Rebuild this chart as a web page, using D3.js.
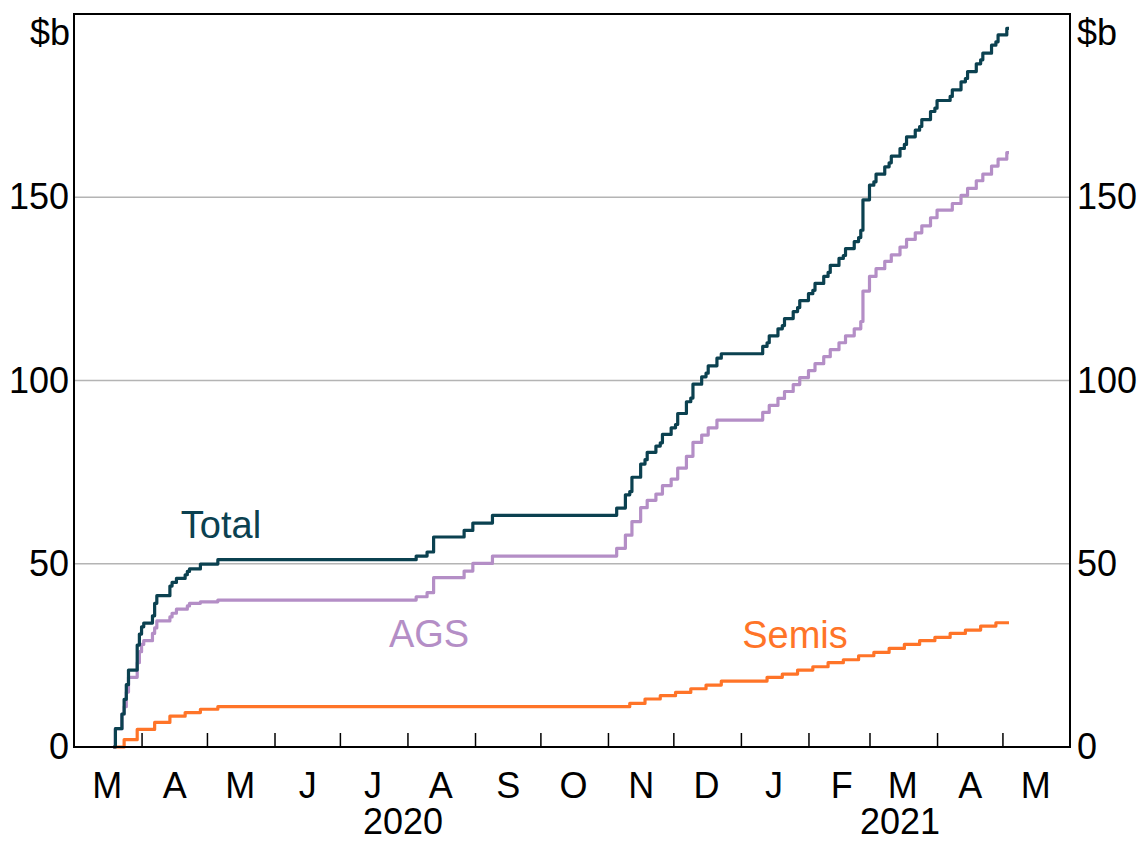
<!DOCTYPE html>
<html>
<head>
<meta charset="utf-8">
<script src="https://cdn.jsdelivr.net/npm/d3@7"></script>
<style>
	body { margin: 0; background: #fff; }
	text { font-family: "Liberation Sans", Arial, sans-serif; }
</style>
</head>
<body>
<svg id="drawZone" width="1140" height="843"></svg>
<script>
/************************************ Data *******************************/
// cumulative purchases, $b, step after each purchase day
var agsData = [
	["2020-03-19",0],["2020-03-20",5],["2020-03-23",9],["2020-03-24",11],["2020-03-25",15],
	["2020-03-26",19],["2020-03-30",23],["2020-03-31",26],["2020-04-01",28],["2020-04-02",29],
	["2020-04-06",31],["2020-04-07",32.5],["2020-04-08",34.4],["2020-04-14",35.5],["2020-04-15",36.5],
	["2020-04-17",37.6],["2020-04-22",38.5],["2020-04-23",39.2],["2020-04-28",39.6],["2020-05-06",40.1],
	["2020-08-05",41],["2020-08-10",42.1],["2020-08-13",46.2],["2020-08-27",48],["2020-08-31",50.1],
	["2020-09-09",52.1],["2020-11-05",54.2],["2020-11-09",57.8],["2020-11-12",61.5],["2020-11-16",65.3],
	["2020-11-19",67.3],["2020-11-23",69],["2020-11-26",71.3],["2020-11-30",73.1],["2020-12-03",76.1],
	["2020-12-07",79.3],["2020-12-10",83.1],["2020-12-14",85.1],["2020-12-17",87.1],["2020-12-21",89.2],
	["2021-01-11",91.3],["2021-01-14",93.2],["2021-01-18",95.1],["2021-01-21",97],["2021-01-25",98.9],
	["2021-01-28",100.8],["2021-02-01",102.7],["2021-02-04",104.6],["2021-02-08",106.5],["2021-02-11",108.4],
	["2021-02-15",110.3],["2021-02-18",112.2],["2021-02-22",114.1],["2021-02-25",116.1],["2021-02-26",124.4],
	["2021-03-01",128.4],["2021-03-04",130.5],["2021-03-08",132.5],["2021-03-11",134.3],["2021-03-15",136.4],
	["2021-03-18",138.5],["2021-03-22",140.3],["2021-03-25",142.2],["2021-03-29",144.4],["2021-04-01",146.5],
	["2021-04-08",148.3],["2021-04-12",150.5],["2021-04-15",152.4],["2021-04-19",154.5],["2021-04-22",156.3],
	["2021-04-26",158.5],["2021-04-29",160.4],["2021-05-03",162.2],["2021-05-04",162.2]
];

var semisData = [
	["2020-03-19",0],["2020-03-24",2],["2020-03-30",4.8],["2020-04-07",6.7],["2020-04-14",8.4],
	["2020-04-21",9.4],["2020-04-28",10.3],["2020-05-06",11],["2020-11-11",11.9],["2020-11-18",13.1],
	["2020-11-25",14],["2020-12-02",14.9],["2020-12-09",15.9],["2020-12-16",16.9],["2020-12-23",18],
	["2021-01-13",19],["2021-01-20",19.9],["2021-01-27",21],["2021-02-03",21.9],["2021-02-10",23],
	["2021-02-17",23.8],["2021-02-24",24.9],["2021-03-03",25.8],["2021-03-10",26.9],["2021-03-17",28],
	["2021-03-24",29],["2021-03-31",29.9],["2021-04-07",31],["2021-04-14",31.9],["2021-04-21",33],
	["2021-04-28",33.9],["2021-05-04",33.9]
];

var totalData = [
	["2020-03-19",0],["2020-03-20",5],["2020-03-23",9],["2020-03-24",13],["2020-03-25",17],
	["2020-03-26",21],["2020-03-30",27.8],["2020-03-31",30.8],["2020-04-01",32.8],["2020-04-02",33.8],
	["2020-04-06",35.8],["2020-04-07",39.2],["2020-04-08",41.3],["2020-04-14",43.9],["2020-04-15",44.9],
	["2020-04-17",46],["2020-04-21",47],["2020-04-22",47.9],["2020-04-23",48.6],["2020-04-28",49.9],
	["2020-05-06",51.1],["2020-08-05",52.1],["2020-08-10",53.2],["2020-08-13",57.3],["2020-08-27",59.1],
	["2020-08-31",61.1],["2020-09-09",63.2],["2020-11-05",65.2],["2020-11-09",68.8],["2020-11-11",69.7],
	["2020-11-12",73.6],["2020-11-16",77.2],["2020-11-18",78.4],["2020-11-19",80.4],["2020-11-23",82.1],
	["2020-11-25",83],["2020-11-26",85.3],["2020-11-30",87.1],["2020-12-02",88],["2020-12-03",91],
	["2020-12-07",94.2],["2020-12-09",95.2],["2020-12-10",99],["2020-12-14",101],["2020-12-16",102],
	["2020-12-17",104],["2020-12-21",106.1],["2020-12-23",107.3],["2021-01-11",109.3],["2021-01-13",110.3],
	["2021-01-14",112.2],["2021-01-18",114.1],["2021-01-20",115],["2021-01-21",116.9],["2021-01-25",118.8],
	["2021-01-27",119.9],["2021-01-28",121.8],["2021-02-01",123.7],["2021-02-03",124.6],["2021-02-04",126.5],
	["2021-02-08",128.4],["2021-02-10",129.5],["2021-02-11",131.4],["2021-02-15",133.3],["2021-02-17",134.1],
	["2021-02-18",136],["2021-02-22",137.9],["2021-02-24",139],["2021-02-25",141],["2021-02-26",149.3],
	["2021-03-01",153.3],["2021-03-03",154.2],["2021-03-04",156.3],["2021-03-08",158.3],["2021-03-10",159.4],
	["2021-03-11",161.2],["2021-03-15",163.3],["2021-03-17",164.4],["2021-03-18",166.5],["2021-03-22",168.3],
	["2021-03-24",169.3],["2021-03-25",171.2],["2021-03-29",173.4],["2021-03-31",174.3],["2021-04-01",176.4],
	["2021-04-07",177.5],["2021-04-08",179.3],["2021-04-12",181.5],["2021-04-14",182.4],["2021-04-15",184.3],
	["2021-04-19",186.4],["2021-04-21",187.5],["2021-04-22",189.3],["2021-04-26",191.5],["2021-04-28",192.4],
	["2021-04-29",194.3],["2021-05-03",196.1],["2021-05-04",196.1]
];

var monthLabels = ["M","A","M","J","J","A","S","O","N","D","J","F","M","A","M"];
var yearLabels = ["2020","2021"];
var yearDates = ["2020-07-30","2021-03-15"];
var yTicks = [0,50,100,150];
var seriesNames = ["Total","AGS","Semis"];

/************************************ Scales *******************************/
var parse = d3.timeParse("%Y-%m-%d");
var plotL = 74, plotR = 1070, plotT = 14, plotB = 747;
var axisFont = 36;

var x = d3.scaleTime()
	.domain([new Date(2020,2,1), new Date(2021,5,1)])
	.range([plotL, plotR]);
var y = d3.scaleLinear()
	.domain([0,200])
	.range([plotB, plotT]);

var svg = d3.select("#drawZone");

/************************************ Grid *******************************/
svg.append("g").selectAll("line")
	.data(yTicks.filter(function(d){ return d > 0; }))
	.enter().append("line")
		.attr("x1", plotL).attr("x2", plotR)
		.attr("y1", function(d){ return y(d); })
		.attr("y2", function(d){ return y(d); })
		.attr("stroke", "#b4b4b4")
		.attr("stroke-width", 1.5);

/************************************ Lines *******************************/
var line = d3.line()
	.curve(d3.curveStepAfter)
	.x(function(d){ return x(parse(d[0])); })
	.y(function(d){ return y(d[1]); });

var series = [
	{ data: semisData, color: "#ff7428" },
	{ data: agsData, color: "#b48ec6" },
	{ data: totalData, color: "#0b4150" }
];
series.forEach(function(s){
	svg.append("path")
		.datum(s.data)
		.attr("d", line)
		.attr("fill", "none")
		.attr("stroke", s.color)
		.attr("stroke-width", 3.2)
		.attr("stroke-linejoin", "round");
});

/************************************ Axes *******************************/
function styleText(g){
	g.select(".domain").remove();
	g.selectAll("text").attr("font-size", axisFont).attr("fill", "#000")
		.attr("font-family", "Liberation Sans, Arial, sans-serif");
}

var monthStarts = d3.timeMonth.range(new Date(2020,3,1), new Date(2021,5,1));
svg.append("g")
	.attr("transform", "translate(0," + plotB + ")")
	.call(d3.axisBottom(x).tickValues(monthStarts).tickSize(-14).tickFormat(""))
	.call(function(g){
		g.select(".domain").remove();
		g.selectAll("line").attr("stroke", "#000").attr("stroke-width", 1.5);
	});

var monthMids = d3.timeMonth.range(new Date(2020,2,1), new Date(2021,5,1)).map(function(d){
	return new Date(d.getFullYear(), d.getMonth(), 16);
});
svg.append("g")
	.attr("transform", "translate(0," + plotB + ")")
	.call(d3.axisBottom(x).tickValues(monthMids).tickSize(0).tickPadding(25)
		.tickFormat(function(d,i){ return monthLabels[i]; }))
	.call(styleText);

svg.append("g").selectAll("text")
	.data(yearLabels)
	.enter().append("text")
		.attr("x", function(d,i){ return x(parse(yearDates[i])); })
		.attr("y", 834)
		.attr("text-anchor", "middle")
		.attr("font-size", axisFont)
		.text(function(d){ return d; });

svg.append("g")
	.attr("transform", "translate(" + plotL + ",0)")
	.call(d3.axisLeft(y).tickValues(yTicks).tickSize(0).tickPadding(5))
	.call(styleText);
svg.append("g")
	.attr("transform", "translate(" + plotR + ",0)")
	.call(d3.axisRight(y).tickValues(yTicks).tickSize(0).tickPadding(7))
	.call(styleText);

// frame
svg.append("rect")
	.attr("x", plotL).attr("y", plotT)
	.attr("width", plotR - plotL).attr("height", plotB - plotT)
	.attr("fill", "none")
	.attr("stroke", "#000")
	.attr("stroke-width", 2);

svg.append("text").attr("x", plotL - 4).attr("y", 32).attr("dy", "0.35em")
	.attr("text-anchor", "end").attr("font-size", axisFont).text("$b");
svg.append("text").attr("x", plotR + 7).attr("y", 32).attr("dy", "0.35em")
	.attr("text-anchor", "start").attr("font-size", axisFont).text("$b");

/************************************ Labels *******************************/
var labelPos = [[221, 538, "#0b4150"], [429, 647, "#b48ec6"], [795, 648, "#ff7428"]];
svg.append("g").selectAll("text")
	.data(seriesNames)
	.enter().append("text")
		.attr("x", function(d,i){ return labelPos[i][0]; })
		.attr("y", function(d,i){ return labelPos[i][1]; })
		.attr("text-anchor", "middle")
		.attr("font-size", 38)
		.attr("fill", function(d,i){ return labelPos[i][2]; })
		.text(function(d){ return d; });
</script>
</body>
</html>
